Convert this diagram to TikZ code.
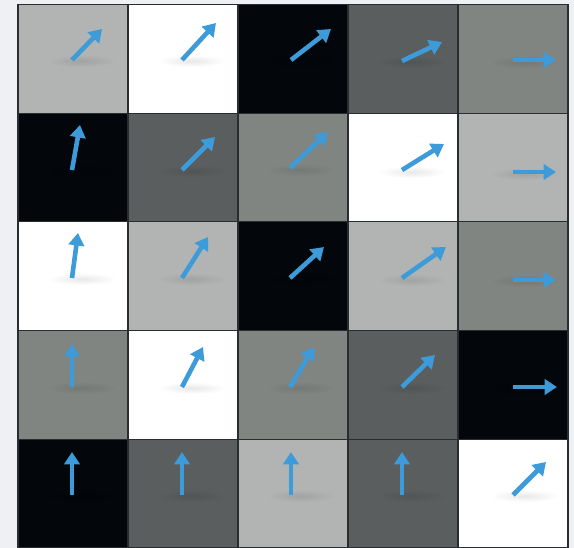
\documentclass[tikz,border=0pt]{standalone}
\usetikzlibrary{arrows.meta,fadings}
\definecolor{bgc}{HTML}{EEF0F3}
\definecolor{cellW}{HTML}{FFFFFF}
\definecolor{cellL}{HTML}{B2B4B3}
\definecolor{cellM}{HTML}{818582}
\definecolor{cellD}{HTML}{5A5E5F}
\definecolor{cellK}{HTML}{03060A}
\definecolor{arr}{HTML}{3D9BD9}
\definecolor{gridc}{HTML}{2A2D2F}
\tikzfading[name=fuzzy, inner color=transparent!0, outer color=transparent!100]
\begin{document}
\begin{tikzpicture}[x=1pt,y=-1pt,
  vec/.style={draw=arr, fill=arr, line width=4.6pt, -{Triangle[length=12.5pt,width=15.5pt]}},
  arrshadow/.style={fill=black, opacity=0.09, path fading=fuzzy},
  gridline/.style={draw=gridc, line width=1.2pt}]
\fill[bgc] (0,0) rectangle (574,548);
\useasboundingbox (0,0) rectangle (574,548);
% cells: column index / row index / colour
\foreach \c/\r/\col in {
  0/0/cellL,1/0/cellW,2/0/cellK,3/0/cellD,4/0/cellM,
  0/1/cellK,1/1/cellD,2/1/cellM,3/1/cellW,4/1/cellL,
  0/2/cellW,1/2/cellL,2/2/cellK,3/2/cellL,4/2/cellM,
  0/3/cellM,1/3/cellW,2/3/cellM,3/3/cellD,4/3/cellK,
  0/4/cellK,1/4/cellD,2/4/cellL,3/4/cellD,4/4/cellW}{
  \fill[fill=\col] ({18+110*\c},{4.5+108.7*\r}) rectangle ++(110,108.7);
}
% shadows
\foreach \x/\y in {
  82/61,192/61,301/61,412/62,525/62,
  82/171,192/171,301/170,412/172,525/174,
  82/279,192/279,301/279,412/280,525/281,
  82/388,192/388,301/388,412/388,525/389,
  82/496,192/496,301/496,412/496,525/496}{
  \fill[arrshadow] (\x,\y) ellipse [x radius=34, y radius=6];
}
% arrows tail -> tip
\foreach \a/\b/\p/\q in {
  72/60/102/29, 182/60/216/23, 291/60/331/29, 402/61/442/42, 513/60/556/60,
  72/170/80/125, 182/170/215/137, 290/168/328/132, 402/170/444/144, 513/172/556/172,
  72/278/78/233, 182/278/208/237, 290/278/324/247, 402/278/446/247, 513/280/556/280,
  72/387/72/344, 182/387/203/347, 290/387/314/347, 402/387/435/355, 513/387/557/387,
  72/495/72/452, 182/495/182/452, 291/495/291/452, 402/495/402/452, 513/495/546/462}{
  \draw[vec] (\a,\b) -- (\p,\q);
}
% grid
\foreach \c in {0,...,5}{
  \draw[gridline] ({18+110*\c},4.5) -- ({18+110*\c},548);
}
\foreach \r in {0,...,5}{
  \draw[gridline] (18,{4.5+108.7*\r}) -- (568,{4.5+108.7*\r});
}
\end{tikzpicture}
\end{document}
